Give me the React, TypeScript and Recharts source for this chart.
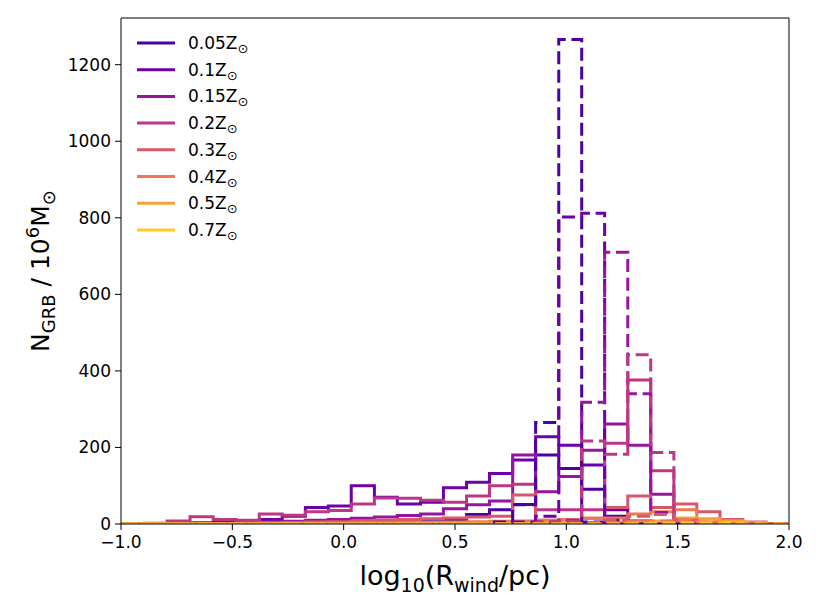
import { LineChart, Line, XAxis, YAxis, ReferenceLine } from "recharts";

// bin edges of the histogram (29 bins from -1 to 2)
const edges = [
  -1.0, -0.897, -0.793, -0.69, -0.586, -0.483, -0.379, -0.276, -0.172, -0.069,
  0.034, 0.138, 0.241, 0.345, 0.448, 0.552, 0.655, 0.759, 0.862, 0.966,
  1.069, 1.172, 1.276, 1.379, 1.483, 1.586, 1.69, 1.793, 1.897, 2.0,
];

const metals = ["0.05", "0.1", "0.15", "0.2", "0.3", "0.4", "0.5", "0.7"];
const colors = ["#4c02a1", "#6e00a8", "#9614a0", "#bd3786", "#d8576b", "#ed7953", "#fb9f3a", "#fdca26"];

// solid histograms
const solid005 = [0, 0, 0, 0, 0, 0, 0, 0, 1, 1, 2, 3, 4, 6, 10, 25, 37, 51, 180, 145, 91, 20, 4, 1, 0, 0, 0, 0, 0];
const solid010 = [0, 0, 1, 3, 4, 5, 12, 20, 43, 47, 100, 70, 52, 57, 95, 109, 132, 167, 228, 206, 154, 37, 8, 2, 0, 0, 0, 0, 0];
const solid015 = [0, 0, 0, 1, 2, 3, 5, 7, 10, 12, 15, 18, 22, 26, 40, 50, 60, 180, 84, 124, 193, 261, 206, 78, 12, 4, 1, 0, 0];
const solid020 = [1, 2, 8, 19, 12, 10, 26, 23, 32, 35, 52, 68, 67, 62, 57, 73, 100, 104, 37, 37, 37, 211, 376, 139, 10, 3, 1, 0, 0];
const solid030 = [0, 0, 0, 0, 1, 2, 3, 4, 5, 6, 8, 10, 12, 14, 16, 18, 20, 76, 10, 10, 15, 43, 73, 43, 52, 32, 12, 5, 1];
const solid040 = [0, 0, 0, 0, 0, 0, 1, 1, 2, 2, 3, 3, 4, 4, 5, 6, 7, 8, 10, 12, 15, 16, 26, 32, 37, 13, 6, 2, 0];
const solid050 = [0, 0, 0, 0, 0, 0, 0, 0, 0, 1, 1, 1, 1, 1, 2, 2, 2, 2, 2, 3, 3, 5, 6, 8, 16, 13, 8, 3, 1];
const solid070 = [0, 0, 0, 0, 0, 0, 0, 0, 0, 0, 0, 0, 0, 0, 0, 0, 0, 0, 0, 0, 0, 0, 1, 2, 4, 4, 3, 2, 1];

// dashed histograms
const dash005 = [0, 0, 0, 0, 0, 0, 0, 0, 0, 0, 0, 0, 0, 0, 0, 0, 5, 50, 265, 1266, 5, 0, 0, 0, 0, 0, 0, 0, 0];
const dash010 = [0, 0, 0, 0, 0, 0, 0, 0, 0, 0, 0, 0, 0, 0, 0, 0, 0, 5, 20, 802, 812, 10, 2, 0, 0, 0, 0, 0, 0];
const dash015 = [0, 0, 0, 0, 0, 0, 0, 0, 0, 0, 0, 0, 0, 0, 0, 0, 0, 0, 5, 10, 318, 710, 340, 30, 3, 0, 0, 0, 0];
const dash020 = [0, 0, 0, 0, 0, 0, 0, 0, 0, 0, 0, 0, 0, 0, 0, 0, 0, 0, 3, 8, 217, 182, 442, 187, 10, 3, 0, 0, 0];
const dash030 = [0, 0, 0, 0, 0, 0, 0, 0, 0, 0, 0, 0, 0, 0, 0, 0, 0, 0, 0, 0, 4, 10, 20, 25, 10, 4, 0, 0, 0];
const dash040 = [0, 0, 0, 0, 0, 0, 0, 0, 0, 0, 0, 0, 0, 0, 0, 0, 0, 0, 0, 0, 0, 3, 6, 8, 10, 5, 2, 0, 0];
const dash050 = [0, 0, 0, 0, 0, 0, 0, 0, 0, 0, 0, 0, 0, 0, 0, 0, 0, 0, 0, 0, 0, 0, 2, 3, 4, 3, 1, 0, 0];
const dash070 = [0, 0, 0, 0, 0, 0, 0, 0, 0, 0, 0, 0, 0, 0, 0, 0, 0, 0, 0, 0, 0, 0, 0, 1, 2, 2, 1, 0, 0];

const solids = [solid005, solid010, solid015, solid020, solid030, solid040, solid050, solid070];
const dashes = [dash005, dash010, dash015, dash020, dash030, dash040, dash050, dash070];

const xTicks = [-1, -0.5, 0, 0.5, 1, 1.5, 2];
const yTicks = [0, 200, 400, 600, 800, 1000, 1200];
const yMax = 1322;

// rows for stepAfter: start at 0, one row per left edge, close at the last edge
const buildRows = () => {
  const rows: any[] = [];
  const n = edges.length - 1;
  const put = (x: number, idx: number | null) => {
    const row: any = { x };
    solids.forEach((s, i) => (row["s" + i] = idx === null ? 0 : s[idx]));
    dashes.forEach((d, i) => (row["d" + i] = idx === null ? 0 : d[idx]));
    rows.push(row);
  };
  put(edges[0], null);
  for (let k = 0; k < n; k++) put(edges[k], k);
  put(edges[n], n - 1);
  put(edges[n], null);
  return rows;
};

const data = buildRows();
const font = "DejaVu Sans, sans-serif";

const fmtX = (v: number) => (v < 0 ? "\u2212" + Math.abs(v).toFixed(1) : v.toFixed(1));

const LegendBox = () => (
  <svg width={170} height={220} style={{ position: "absolute", left: 135, top: 31 }}>
    {metals.map((m, i) => (
      <g key={m}>
        <line x1={2} x2={40} y1={12 + i * 26.7} y2={12 + i * 26.7} stroke={colors[i]} strokeWidth={3} />
        <text x={53} y={18 + i * 26.7} fontSize={17} fontFamily={font} fill="#000">
          {m}Z<tspan fontSize={13} dy={4}>⊙</tspan>
        </text>
      </g>
    ))}
  </svg>
);

const XLabel = (props: any) => {
  const vb = props.viewBox;
  const cx = vb.x + vb.width / 2;
  return (
    <text x={cx} y={585} textAnchor="middle" fontSize={27} fontFamily={font} fill="#000">
      log<tspan fontSize={19} dy={7}>10</tspan>
      <tspan dy={-7}>(R</tspan>
      <tspan fontSize={19} dy={7}>wind</tspan>
      <tspan dy={-7}>/pc)</tspan>
    </text>
  );
};

const YLabel = (props: any) => {
  const vb = props.viewBox;
  const cy = vb.y + vb.height / 2;
  return (
    <text
      x={49}
      y={cy}
      transform={`rotate(-90, 49, ${cy})`}
      textAnchor="middle"
      fontSize={25}
      fontFamily={font}
      fill="#000"
    >
      N<tspan fontSize={18} dy={6}>GRB</tspan>
      <tspan dy={-6}> / 10</tspan>
      <tspan fontSize={18} dy={-10}>6</tspan>
      <tspan dy={10}>M</tspan>
      <tspan fontSize={18} dy={6}>⊙</tspan>
    </text>
  );
};

const App = () => {
  return (
    <div style={{ position: "absolute", left: 0, top: 0, width: 822, height: 616, background: "#fff" }}>
      <LineChart width={822} height={616} data={data} margin={{ top: 18, right: 33, left: 0, bottom: 32 }}>
        <XAxis
          dataKey="x"
          type="number"
          domain={[-1, 2]}
          ticks={xTicks}
          tickFormatter={fmtX}
          allowDataOverflow
          height={60}
          stroke="#000"
          tickSize={6}
          tickMargin={6}
          tick={{ fill: "#000", fontSize: 17, fontFamily: font }}
          label={<XLabel />}
        />
        <YAxis
          type="number"
          domain={[0, yMax]}
          ticks={yTicks}
          allowDataOverflow
          width={121}
          stroke="#000"
          tickSize={6}
          tickMargin={4}
          tick={{ fill: "#000", fontSize: 17, fontFamily: font }}
          label={<YLabel />}
        />
        <ReferenceLine y={yMax} stroke="#000" strokeWidth={1} ifOverflow="visible" />
        <ReferenceLine x={2} stroke="#000" strokeWidth={1} ifOverflow="visible" />
        {solids.map((_, i) => (
          <Line
            key={"s" + i}
            dataKey={"s" + i}
            type="stepAfter"
            stroke={colors[i]}
            strokeWidth={3}
            dot={false}
            activeDot={false}
            isAnimationActive={false}
          />
        ))}
        {dashes.map((_, i) => (
          <Line
            key={"d" + i}
            dataKey={"d" + i}
            type="stepAfter"
            stroke={colors[i]}
            strokeWidth={3}
            strokeDasharray="13 5.7"
            dot={false}
            activeDot={false}
            legendType="none"
            isAnimationActive={false}
          />
        ))}
      </LineChart>
      <LegendBox />
    </div>
  );
};

export default App;
